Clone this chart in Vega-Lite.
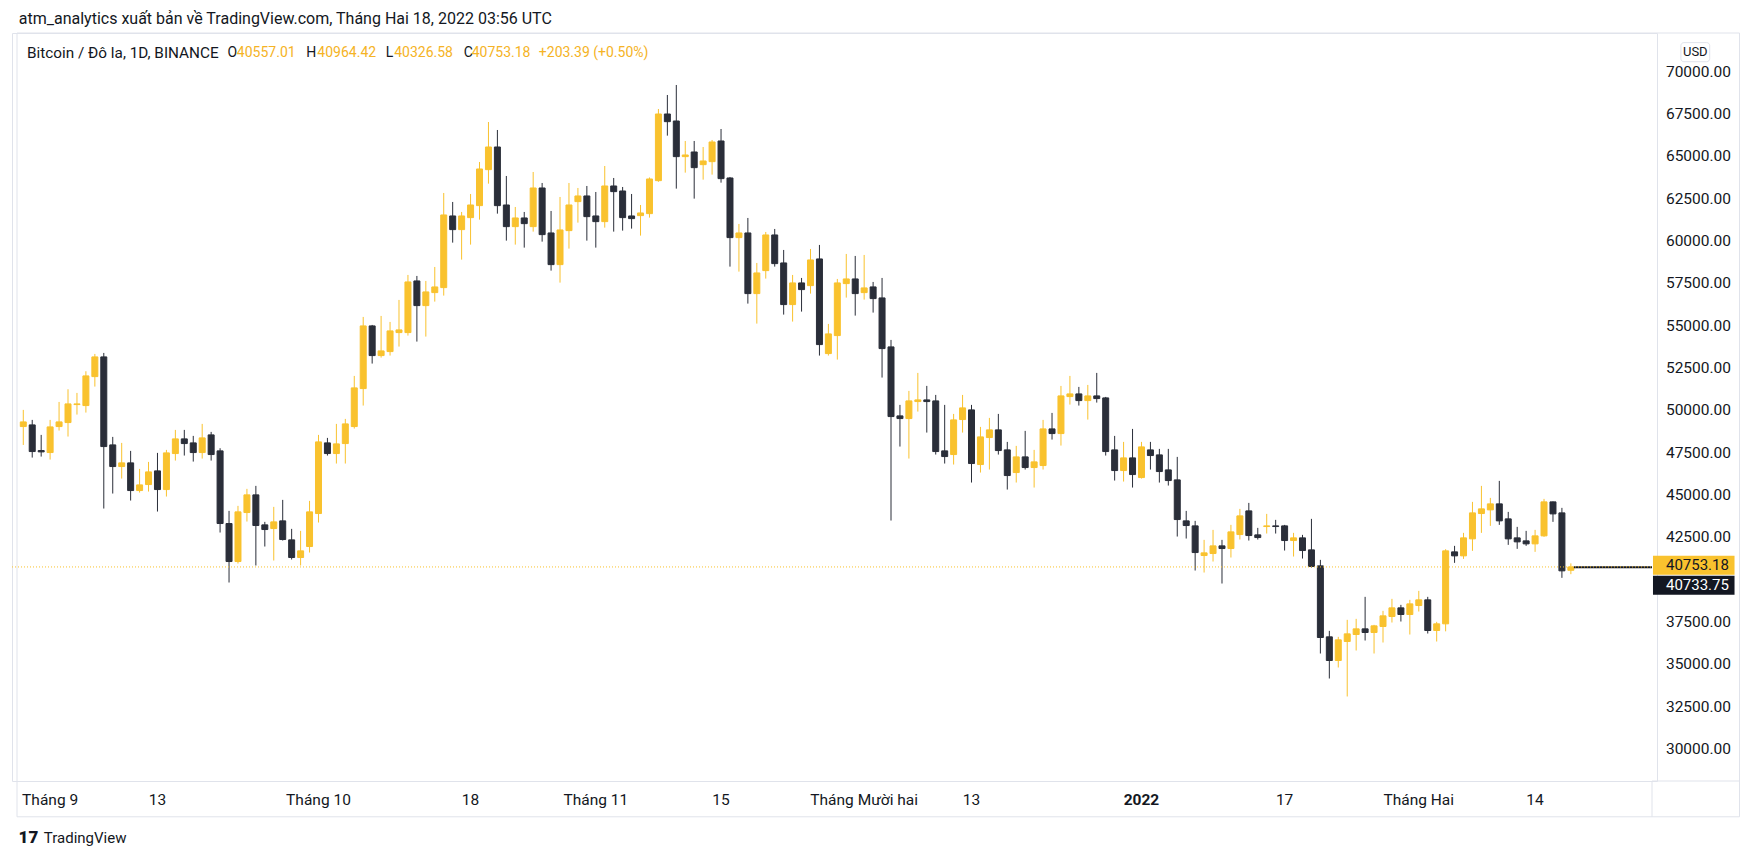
{
"$schema": "https://vega.github.io/schema/vega-lite/v6.json",
"width": 1645, "height": 748, "autosize": "none",
"padding": {"left": 12, "top": 33, "right": 101, "bottom": 80},
"background": "#ffffff",
"config": {"view": {"stroke": "#E0E3EB", "strokeWidth": 1}, "font": "Roboto"},
"datasets": {
"yt": [{"v":30000},{"v":32500},{"v":35000},{"v":37500},{"v":42500},{"v":45000},{"v":47500},{"v":50000},{"v":52500},{"v":55000},{"v":57500},{"v":60000},{"v":62500},{"v":65000},{"v":67500},{"v":70000}],
"xt": [
{"d":"2021-09-01","t":"Tháng 9"},
{"d":"2021-09-13","t":"13"},
{"d":"2021-10-01","t":"Tháng 10"},
{"d":"2021-10-18","t":"18"},
{"d":"2021-11-01","t":"Tháng 11"},
{"d":"2021-11-15","t":"15"},
{"d":"2021-12-01","t":"Tháng Mười hai"},
{"d":"2021-12-13","t":"13"},
{"d":"2022-01-01","t":"2022"},
{"d":"2022-01-17","t":"17"},
{"d":"2022-02-01","t":"Tháng Hai"},
{"d":"2022-02-14","t":"14"}],
"btc": [
{"d":"2021-08-29","o":49045,"h":50030,"l":47960,"c":49320},
{"d":"2021-08-30","o":49143,"h":49439,"l":47214,"c":47569},
{"d":"2021-08-31","o":47628,"h":48553,"l":47273,"c":47549},
{"d":"2021-09-01","o":47510,"h":49439,"l":47096,"c":49025},
{"d":"2021-09-02","o":49045,"h":50500,"l":48810,"c":49320},
{"d":"2021-09-03","o":49281,"h":51249,"l":48455,"c":50383},
{"d":"2021-09-04","o":50344,"h":51033,"l":49754,"c":50383},
{"d":"2021-09-05","o":50285,"h":52312,"l":49872,"c":52037},
{"d":"2021-09-06","o":51997,"h":53336,"l":51407,"c":53159},
{"d":"2021-09-07","o":53159,"h":53395,"l":44203,"c":47864},
{"d":"2021-09-08","o":47962,"h":48435,"l":45089,"c":46683},
{"d":"2021-09-09","o":46683,"h":48081,"l":45974,"c":46900},
{"d":"2021-09-10","o":46900,"h":47608,"l":44675,"c":45266},
{"d":"2021-09-11","o":45266,"h":46545,"l":45148,"c":45600},
{"d":"2021-09-12","o":45620,"h":46958,"l":45207,"c":46368},
{"d":"2021-09-13","o":46427,"h":47490,"l":44026,"c":45325},
{"d":"2021-09-14","o":45325,"h":47667,"l":44912,"c":47490},
{"d":"2021-09-15","o":47451,"h":48848,"l":47037,"c":48317},
{"d":"2021-09-16","o":48317,"h":48848,"l":47333,"c":48041},
{"d":"2021-09-17","o":48081,"h":48494,"l":46978,"c":47510},
{"d":"2021-09-18","o":47510,"h":49203,"l":47155,"c":48376},
{"d":"2021-09-19","o":48553,"h":48730,"l":47037,"c":47392},
{"d":"2021-09-20","o":47609,"h":47766,"l":42787,"c":43318},
{"d":"2021-09-21","o":43318,"h":44066,"l":39834,"c":41074},
{"d":"2021-09-22","o":41074,"h":44361,"l":40956,"c":44007},
{"d":"2021-09-23","o":43967,"h":45365,"l":43436,"c":45011},
{"d":"2021-09-24","o":45011,"h":45542,"l":40838,"c":43200},
{"d":"2021-09-25","o":43239,"h":43416,"l":41960,"c":42963},
{"d":"2021-09-26","o":43022,"h":44302,"l":41133,"c":43416},
{"d":"2021-09-27","o":43475,"h":44715,"l":42314,"c":42373},
{"d":"2021-09-28","o":42353,"h":43003,"l":41192,"c":41310},
{"d":"2021-09-29","o":41310,"h":42885,"l":40838,"c":41704},
{"d":"2021-09-30","o":41960,"h":44656,"l":41605,"c":44007},
{"d":"2021-10-01","o":43908,"h":48553,"l":43377,"c":48140},
{"d":"2021-10-02","o":48081,"h":48376,"l":47333,"c":47451},
{"d":"2021-10-03","o":47451,"h":49203,"l":46861,"c":48022},
{"d":"2021-10-04","o":48041,"h":49498,"l":46861,"c":49203},
{"d":"2021-10-05","o":49046,"h":52037,"l":48927,"c":51329},
{"d":"2021-10-06","o":51289,"h":55521,"l":50286,"c":54990},
{"d":"2021-10-07","o":54990,"h":55049,"l":52766,"c":53238},
{"d":"2021-10-08","o":53238,"h":55580,"l":53120,"c":53514},
{"d":"2021-10-09","o":53474,"h":55226,"l":53238,"c":54695},
{"d":"2021-10-10","o":54596,"h":56525,"l":53770,"c":54754},
{"d":"2021-10-11","o":54596,"h":58001,"l":54419,"c":57588},
{"d":"2021-10-12","o":57647,"h":57942,"l":54065,"c":56190},
{"d":"2021-10-13","o":56190,"h":57647,"l":54360,"c":56998},
{"d":"2021-10-14","o":56958,"h":58473,"l":56427,"c":57292},
{"d":"2021-10-15","o":57253,"h":62843,"l":56781,"c":61544},
{"d":"2021-10-16","o":61485,"h":62312,"l":59910,"c":60678},
{"d":"2021-10-17","o":60678,"h":61721,"l":58906,"c":61485},
{"d":"2021-10-18","o":61387,"h":62784,"l":59792,"c":62134},
{"d":"2021-10-19","o":62095,"h":64673,"l":61268,"c":64260},
{"d":"2021-10-20","o":64221,"h":67035,"l":63394,"c":65559},
{"d":"2021-10-21","o":65559,"h":66563,"l":61623,"c":62095},
{"d":"2021-10-22","o":62134,"h":63847,"l":60028,"c":60855},
{"d":"2021-10-23","o":60855,"h":62016,"l":59792,"c":61367},
{"d":"2021-10-24","o":61367,"h":61721,"l":59615,"c":61032},
{"d":"2021-10-25","o":60855,"h":64083,"l":60560,"c":63138},
{"d":"2021-10-26","o":63138,"h":63433,"l":59969,"c":60383},
{"d":"2021-10-27","o":60481,"h":61780,"l":58257,"c":58611},
{"d":"2021-10-28","o":58611,"h":62607,"l":57548,"c":60658},
{"d":"2021-10-29","o":60619,"h":63433,"l":59556,"c":62134},
{"d":"2021-10-30","o":62331,"h":63138,"l":61091,"c":62666},
{"d":"2021-10-31","o":62666,"h":63256,"l":60028,"c":61445},
{"d":"2021-11-01","o":61485,"h":62902,"l":59615,"c":61150},
{"d":"2021-11-02","o":61150,"h":64437,"l":60796,"c":63256},
{"d":"2021-11-03","o":63256,"h":63729,"l":60560,"c":62922},
{"d":"2021-11-04","o":62961,"h":63197,"l":60619,"c":61387},
{"d":"2021-11-05","o":61485,"h":62784,"l":60737,"c":61328},
{"d":"2021-11-06","o":61505,"h":62134,"l":60324,"c":61662},
{"d":"2021-11-07","o":61623,"h":63760,"l":61387,"c":63670},
{"d":"2021-11-08","o":63571,"h":67803,"l":63500,"c":67508},
{"d":"2021-11-09","o":67508,"h":68630,"l":66229,"c":67055},
{"d":"2021-11-10","o":67095,"h":69221,"l":63099,"c":64989},
{"d":"2021-11-11","o":64989,"h":65914,"l":64044,"c":65087},
{"d":"2021-11-12","o":65264,"h":65914,"l":62509,"c":64339},
{"d":"2021-11-13","o":64516,"h":65559,"l":63630,"c":64733},
{"d":"2021-11-14","o":64693,"h":65973,"l":63926,"c":65855},
{"d":"2021-11-15","o":65914,"h":66622,"l":63453,"c":63690},
{"d":"2021-11-16","o":63729,"h":63788,"l":58493,"c":60206},
{"d":"2021-11-17","o":60206,"h":61013,"l":58198,"c":60481},
{"d":"2021-11-18","o":60481,"h":61367,"l":56308,"c":56899},
{"d":"2021-11-19","o":56899,"h":58710,"l":55127,"c":58119},
{"d":"2021-11-20","o":58257,"h":60540,"l":57785,"c":60363},
{"d":"2021-11-21","o":60363,"h":60717,"l":58493,"c":58670},
{"d":"2021-11-22","o":58710,"h":59477,"l":55659,"c":56250},
{"d":"2021-11-23","o":56250,"h":58001,"l":55246,"c":57529},
{"d":"2021-11-24","o":57529,"h":57824,"l":55836,"c":57135},
{"d":"2021-11-25","o":57371,"h":59536,"l":56899,"c":58887},
{"d":"2021-11-26","o":58946,"h":59773,"l":53238,"c":53888},
{"d":"2021-11-27","o":53356,"h":55108,"l":53238,"c":54518},
{"d":"2021-11-28","o":54419,"h":57765,"l":53002,"c":57529},
{"d":"2021-11-29","o":57490,"h":59241,"l":56663,"c":57765},
{"d":"2021-11-30","o":57765,"h":59123,"l":55600,"c":56899},
{"d":"2021-12-01","o":56958,"h":59182,"l":56545,"c":57234},
{"d":"2021-12-02","o":57293,"h":57588,"l":55777,"c":56604},
{"d":"2021-12-03","o":56643,"h":57824,"l":51939,"c":53651},
{"d":"2021-12-04","o":53750,"h":54163,"l":43495,"c":49636},
{"d":"2021-12-05","o":49675,"h":50325,"l":47865,"c":49518},
{"d":"2021-12-06","o":49518,"h":51152,"l":47156,"c":50561},
{"d":"2021-12-07","o":50522,"h":52214,"l":49931,"c":50620},
{"d":"2021-12-08","o":50620,"h":51447,"l":48691,"c":50522},
{"d":"2021-12-09","o":50561,"h":50915,"l":47392,"c":47569},
{"d":"2021-12-10","o":47609,"h":50325,"l":46861,"c":47274},
{"d":"2021-12-11","o":47392,"h":49793,"l":46802,"c":49439},
{"d":"2021-12-12","o":49459,"h":50915,"l":48691,"c":50148},
{"d":"2021-12-13","o":50030,"h":50325,"l":45739,"c":46861},
{"d":"2021-12-14","o":46802,"h":49026,"l":46329,"c":48435},
{"d":"2021-12-15","o":48396,"h":49557,"l":46506,"c":48849},
{"d":"2021-12-16","o":48849,"h":49793,"l":47392,"c":47628},
{"d":"2021-12-17","o":47668,"h":48140,"l":45325,"c":46152},
{"d":"2021-12-18","o":46329,"h":47904,"l":45739,"c":47254},
{"d":"2021-12-19","o":47254,"h":48790,"l":46506,"c":46624},
{"d":"2021-12-20","o":46624,"h":47668,"l":45443,"c":46959},
{"d":"2021-12-21","o":46742,"h":49439,"l":46506,"c":48907},
{"d":"2021-12-22","o":48907,"h":49852,"l":48277,"c":48632},
{"d":"2021-12-23","o":48632,"h":51446,"l":47923,"c":50856},
{"d":"2021-12-24","o":50816,"h":52037,"l":50344,"c":50974},
{"d":"2021-12-25","o":50974,"h":51387,"l":50285,"c":50580},
{"d":"2021-12-26","o":50580,"h":51505,"l":49458,"c":50856},
{"d":"2021-12-27","o":50856,"h":52214,"l":50462,"c":50698},
{"d":"2021-12-28","o":50738,"h":50797,"l":47333,"c":47569},
{"d":"2021-12-29","o":47667,"h":48494,"l":45856,"c":46447},
{"d":"2021-12-30","o":46447,"h":48140,"l":45797,"c":47195},
{"d":"2021-12-31","o":47195,"h":48907,"l":45443,"c":46211},
{"d":"2022-01-01","o":46033,"h":48140,"l":45974,"c":47844},
{"d":"2022-01-02","o":47667,"h":48140,"l":46506,"c":47333},
{"d":"2022-01-03","o":47372,"h":47726,"l":45738,"c":46388},
{"d":"2022-01-04","o":46486,"h":47726,"l":45561,"c":45856},
{"d":"2022-01-05","o":45896,"h":47254,"l":42550,"c":43553},
{"d":"2022-01-06","o":43475,"h":44065,"l":42431,"c":43199},
{"d":"2022-01-07","o":43179,"h":43475,"l":40542,"c":41604},
{"d":"2022-01-08","o":41428,"h":42353,"l":40424,"c":41585},
{"d":"2022-01-09","o":41546,"h":42943,"l":41073,"c":41998},
{"d":"2022-01-10","o":41998,"h":42353,"l":39774,"c":41841},
{"d":"2022-01-11","o":41841,"h":43239,"l":41310,"c":42825},
{"d":"2022-01-12","o":42667,"h":44183,"l":42372,"c":43770},
{"d":"2022-01-13","o":44065,"h":44537,"l":42313,"c":42608},
{"d":"2022-01-14","o":42648,"h":43061,"l":42372,"c":42490},
{"d":"2022-01-15","o":43140,"h":43888,"l":42727,"c":43179},
{"d":"2022-01-16","o":43179,"h":43534,"l":42727,"c":43140},
{"d":"2022-01-17","o":43179,"h":43238,"l":41723,"c":42313},
{"d":"2022-01-18","o":42313,"h":42766,"l":41368,"c":42471},
{"d":"2022-01-19","o":42471,"h":42648,"l":41250,"c":41723},
{"d":"2022-01-20","o":41762,"h":43593,"l":40719,"c":40778},
{"d":"2022-01-21","o":40817,"h":41172,"l":35641,"c":36586},
{"d":"2022-01-22","o":36625,"h":36979,"l":34164,"c":35227},
{"d":"2022-01-23","o":35227,"h":36625,"l":34814,"c":36448},
{"d":"2022-01-24","o":36350,"h":37629,"l":33102,"c":36802},
{"d":"2022-01-25","o":36763,"h":37688,"l":35818,"c":37097},
{"d":"2022-01-26","o":37097,"h":38987,"l":36408,"c":36881},
{"d":"2022-01-27","o":36881,"h":37333,"l":35641,"c":37274},
{"d":"2022-01-28","o":37235,"h":38160,"l":36290,"c":37865},
{"d":"2022-01-29","o":37826,"h":38869,"l":37471,"c":38337},
{"d":"2022-01-30","o":38337,"h":38514,"l":37530,"c":37944},
{"d":"2022-01-31","o":37944,"h":38810,"l":36762,"c":38573},
{"d":"2022-02-01","o":38475,"h":39341,"l":38121,"c":38810},
{"d":"2022-02-02","o":38810,"h":38987,"l":36822,"c":36999},
{"d":"2022-02-03","o":36999,"h":37511,"l":36349,"c":37393},
{"d":"2022-02-04","o":37393,"h":41802,"l":36950,"c":41704},
{"d":"2022-02-05","o":41644,"h":41999,"l":40995,"c":41408},
{"d":"2022-02-06","o":41408,"h":42766,"l":41231,"c":42471},
{"d":"2022-02-07","o":42412,"h":44597,"l":41704,"c":43947},
{"d":"2022-02-08","o":43908,"h":45542,"l":42766,"c":44184},
{"d":"2022-02-09","o":44125,"h":44833,"l":43180,"c":44479},
{"d":"2022-02-10","o":44479,"h":45837,"l":43239,"c":43475},
{"d":"2022-02-11","o":43593,"h":44006,"l":42058,"c":42412},
{"d":"2022-02-12","o":42471,"h":43121,"l":41822,"c":42235},
{"d":"2022-02-13","o":42294,"h":42885,"l":41999,"c":42117},
{"d":"2022-02-14","o":42117,"h":42944,"l":41644,"c":42589},
{"d":"2022-02-15","o":42589,"h":44774,"l":42530,"c":44597},
{"d":"2022-02-16","o":44597,"h":44620,"l":43416,"c":43888},
{"d":"2022-02-17","o":43947,"h":44243,"l":40109,"c":40523},
{"d":"2022-02-18","o":40557.01,"h":40964.42,"l":40326.58,"c":40753.18}
]},
"layer": [
{"data": {"name": "btc"},
 "mark": {"type": "rule", "strokeWidth": 1},
 "encoding": {
  "x": {"field": "d", "type": "temporal", "axis": null,
   "scale": {"type": "utc", "domain": [1630134480000, 1645926060000], "nice": false}},
  "y": {"field": "l", "type": "quantitative", "axis": null,
   "scale": {"domain": [28110, 72292], "nice": false, "zero": false}},
  "y2": {"field": "h"},
  "color": {"condition": {"test": "datum.c >= datum.o", "value": "#F9C22E"}, "value": "#2A2E39"}}},
{"data": {"name": "btc"},
 "mark": {"type": "bar", "size": 6, "strokeWidth": 1},
 "encoding": {
  "x": {"field": "d", "type": "temporal", "axis": null},
  "y": {"field": "o", "type": "quantitative", "axis": null},
  "y2": {"field": "c"},
  "fill": {"condition": {"test": "datum.c >= datum.o", "value": "#F9C22E"}, "value": "#2A2E39"},
  "stroke": {"condition": {"test": "datum.c >= datum.o", "value": "#F9C22E"}, "value": "#2A2E39"}}},
{"data": {"name": "yt"},
 "mark": {"type": "text", "align": "left", "baseline": "middle", "fontSize": 15.5, "font": "Roboto", "color": "#131722"},
 "encoding": {
  "x": {"datum": {"year": 2022, "month": 2, "date": 28, "hours": 15, "minutes": 7, "utc": true}, "type": "temporal", "axis": null},
  "y": {"field": "v", "type": "quantitative", "axis": null},
  "text": {"field": "v", "type": "quantitative", "format": ".2f"}}},
{"data": {"name": "xt"},
 "transform": [{"filter": "datum.t != '2022'"}],
 "mark": {"type": "text", "align": "center", "baseline": "middle", "fontSize": 15.5, "font": "Roboto", "color": "#131722"},
 "encoding": {
  "x": {"field": "d", "type": "temporal", "axis": null},
  "y": {"datum": 27000, "type": "quantitative", "axis": null},
  "text": {"field": "t", "type": "nominal"}}},
{"data": {"name": "xt"},
 "transform": [{"filter": "datum.t == '2022'"}],
 "mark": {"type": "text", "align": "center", "baseline": "middle", "fontSize": 15.5, "font": "Roboto", "fontWeight": "bold", "color": "#131722"},
 "encoding": {
  "x": {"field": "d", "type": "temporal", "axis": null},
  "y": {"datum": 27000, "type": "quantitative", "axis": null},
  "text": {"field": "t", "type": "nominal"}}},
{"data": {"values": [{}]},
 "mark": {"type": "rect", "fill": "transparent", "stroke": "#E0E3EB", "strokeWidth": 1},
 "encoding": {
  "x": {"datum": {"year": 2021, "month": 8, "date": 28, "hours": 7, "minutes": 8, "utc": true}, "type": "temporal", "axis": null},
  "x2": {"datum": {"year": 2022, "month": 3, "date": 8, "hours": 20, "minutes": 24, "utc": true}},
  "y": {"datum": 72292, "type": "quantitative", "axis": null},
  "y2": {"datum": 25996}}},
{"data": {"values": [{}]},
 "mark": {"type": "rule", "color": "#E0E3EB", "strokeWidth": 1},
 "encoding": {
  "x": {"datum": {"year": 2022, "month": 2, "date": 27, "hours": 1, "minutes": 41, "utc": true}, "type": "temporal", "axis": null},
  "y": {"datum": 28110, "type": "quantitative", "axis": null},
  "y2": {"datum": 25996}}},
{"data": {"values": [{}]},
 "mark": {"type": "rule", "color": "#E0E3EB", "strokeWidth": 1},
 "encoding": {
  "x": {"datum": {"year": 2022, "month": 2, "date": 27, "hours": 1, "minutes": 41, "utc": true}, "type": "temporal", "axis": null},
  "x2": {"datum": {"year": 2022, "month": 3, "date": 8, "hours": 20, "minutes": 24, "utc": true}},
  "y": {"datum": 28110, "type": "quantitative", "axis": null}}},
{"data": {"values": [{}]},
 "mark": {"type": "rule", "color": "#131722", "strokeWidth": 2},
 "encoding": {
  "x": {"datum": {"year": 2022, "month": 2, "date": 18, "hours": 8, "utc": true}, "type": "temporal", "axis": null},
  "x2": {"datum": {"year": 2022, "month": 2, "date": 27, "hours": 1, "minutes": 41, "utc": true}},
  "y": {"datum": 40733.75, "type": "quantitative", "axis": null}}},
{"data": {"values": [{}]},
 "mark": {"type": "rule", "color": "#F9C22E", "strokeWidth": 1, "strokeDash": [1, 2]},
 "encoding": {
  "y": {"datum": 40753.18, "type": "quantitative", "axis": null}}},
{"data": {"values": [{}]},
 "mark": {"type": "rect", "fill": "#F9C22E"},
 "encoding": {
  "x": {"datum": {"year": 2022, "month": 2, "date": 27, "hours": 4, "minutes": 19, "utc": true}, "type": "temporal", "axis": null},
  "x2": {"datum": {"year": 2022, "month": 3, "date": 8, "hours": 7, "minutes": 7, "utc": true}},
  "y": {"datum": 41408, "type": "quantitative", "axis": null},
  "y2": {"datum": 40286}}},
{"data": {"values": [{}]},
 "mark": {"type": "rect", "fill": "#131722"},
 "encoding": {
  "x": {"datum": {"year": 2022, "month": 2, "date": 27, "hours": 4, "minutes": 19, "utc": true}, "type": "temporal", "axis": null},
  "x2": {"datum": {"year": 2022, "month": 3, "date": 8, "hours": 7, "minutes": 7, "utc": true}},
  "y": {"datum": 40227, "type": "quantitative", "axis": null},
  "y2": {"datum": 39105}}},
{"data": {"values": [{}]},
 "mark": {"type": "text", "align": "left", "baseline": "middle", "fontSize": 15, "font": "Roboto", "color": "#131722"},
 "encoding": {
  "x": {"datum": {"year": 2022, "month": 2, "date": 28, "hours": 15, "minutes": 7, "utc": true}, "type": "temporal", "axis": null},
  "y": {"datum": 40847, "type": "quantitative", "axis": null},
  "text": {"value": "40753.18"}}},
{"data": {"values": [{}]},
 "mark": {"type": "text", "align": "left", "baseline": "middle", "fontSize": 15, "font": "Roboto", "color": "#ffffff"},
 "encoding": {
  "x": {"datum": {"year": 2022, "month": 2, "date": 28, "hours": 15, "minutes": 7, "utc": true}, "type": "temporal", "axis": null},
  "y": {"datum": 39666, "type": "quantitative", "axis": null},
  "text": {"value": "40733.75"}}},
{"data": {"values": [{}]},
 "mark": {"type": "rect", "fill": "#ffffff", "stroke": "#E0E3EB", "strokeWidth": 1, "cornerRadius": 3},
 "encoding": {
  "x": {"datum": {"year": 2022, "month": 3, "date": 2, "hours": 7, "minutes": 12, "utc": true}, "type": "temporal", "axis": null},
  "x2": {"datum": {"year": 2022, "month": 3, "date": 5, "hours": 12, "minutes": 32, "utc": true}},
  "y": {"datum": 71724, "type": "quantitative", "axis": null},
  "y2": {"datum": 70596}}},
{"data": {"values": [{}]},
 "mark": {"type": "text", "align": "center", "baseline": "middle", "fontSize": 13, "font": "Roboto", "color": "#131722"},
 "encoding": {
  "x": {"datum": {"year": 2022, "month": 3, "date": 3, "hours": 21, "minutes": 50, "utc": true}, "type": "temporal", "axis": null},
  "y": {"datum": 71157, "type": "quantitative", "axis": null},
  "text": {"value": "USD"}}},
{"data": {"values": [{}]},
 "mark": {"type": "text", "align": "left", "baseline": "middle", "fontSize": 16, "font": "Roboto", "color": "#131722"},
 "encoding": {
  "x": {"datum": {"year": 2021, "month": 8, "date": 28, "hours": 11, "minutes": 57, "utc": true}, "type": "temporal", "axis": null},
  "y": {"datum": 73118, "type": "quantitative", "axis": null},
  "text": {"value": "atm_analytics xuất bản về TradingView.com, Tháng Hai 18, 2022 03:56 UTC"}}},
{"data": {"values": [{}]},
 "mark": {"type": "text", "align": "left", "baseline": "middle", "fontSize": 15.3, "font": "Roboto", "color": "#131722"},
 "encoding": {
  "x": {"datum": {"year": 2021, "month": 8, "date": 29, "hours": 10, "minutes": 0, "utc": true}, "type": "temporal", "axis": null},
  "y": {"datum": 71128, "type": "quantitative", "axis": null},
  "text": {"value": "Bitcoin / Đô la, 1D, BINANCE"}}},
{"data": {"values": [{}]},
 "mark": {"type": "text", "align": "left", "baseline": "middle", "fontSize": 14, "font": "Roboto", "color": "#131722"},
 "encoding": {
  "x": {"datum": {"year": 2021, "month": 9, "date": 20, "hours": 20, "minutes": 0, "utc": true}, "type": "temporal", "axis": null},
  "y": {"datum": 71128, "type": "quantitative", "axis": null},
  "text": {"value": "O"}}},
{"data": {"values": [{}]},
 "mark": {"type": "text", "align": "left", "baseline": "middle", "fontSize": 14, "font": "Roboto", "color": "#F5B325"},
 "encoding": {
  "x": {"datum": {"year": 2021, "month": 9, "date": 21, "hours": 21, "minutes": 0, "utc": true}, "type": "temporal", "axis": null},
  "y": {"datum": 71128, "type": "quantitative", "axis": null},
  "text": {"value": "40557.01"}}},
{"data": {"values": [{}]},
 "mark": {"type": "text", "align": "left", "baseline": "middle", "fontSize": 14, "font": "Roboto", "color": "#131722"},
 "encoding": {
  "x": {"datum": {"year": 2021, "month": 9, "date": 29, "hours": 15, "minutes": 7, "utc": true}, "type": "temporal", "axis": null},
  "y": {"datum": 71128, "type": "quantitative", "axis": null},
  "text": {"value": "H"}}},
{"data": {"values": [{}]},
 "mark": {"type": "text", "align": "left", "baseline": "middle", "fontSize": 14, "font": "Roboto", "color": "#F5B325"},
 "encoding": {
  "x": {"datum": {"year": 2021, "month": 9, "date": 30, "hours": 21, "minutes": 0, "utc": true}, "type": "temporal", "axis": null},
  "y": {"datum": 71128, "type": "quantitative", "axis": null},
  "text": {"value": "40964.42"}}},
{"data": {"values": [{}]},
 "mark": {"type": "text", "align": "left", "baseline": "middle", "fontSize": 14, "font": "Roboto", "color": "#131722"},
 "encoding": {
  "x": {"datum": {"year": 2021, "month": 10, "date": 8, "hours": 12, "minutes": 29, "utc": true}, "type": "temporal", "axis": null},
  "y": {"datum": 71128, "type": "quantitative", "axis": null},
  "text": {"value": "L"}}},
{"data": {"values": [{}]},
 "mark": {"type": "text", "align": "left", "baseline": "middle", "fontSize": 14, "font": "Roboto", "color": "#F5B325"},
 "encoding": {
  "x": {"datum": {"year": 2021, "month": 10, "date": 9, "hours": 11, "minutes": 0, "utc": true}, "type": "temporal", "axis": null},
  "y": {"datum": 71128, "type": "quantitative", "axis": null},
  "text": {"value": "40326.58"}}},
{"data": {"values": [{}]},
 "mark": {"type": "text", "align": "left", "baseline": "middle", "fontSize": 14, "font": "Roboto", "color": "#131722"},
 "encoding": {
  "x": {"datum": {"year": 2021, "month": 10, "date": 17, "hours": 5, "minutes": 33, "utc": true}, "type": "temporal", "axis": null},
  "y": {"datum": 71128, "type": "quantitative", "axis": null},
  "text": {"value": "C"}}},
{"data": {"values": [{}]},
 "mark": {"type": "text", "align": "left", "baseline": "middle", "fontSize": 14, "font": "Roboto", "color": "#F5B325"},
 "encoding": {
  "x": {"datum": {"year": 2021, "month": 10, "date": 18, "hours": 3, "minutes": 0, "utc": true}, "type": "temporal", "axis": null},
  "y": {"datum": 71128, "type": "quantitative", "axis": null},
  "text": {"value": "40753.18"}}},
{"data": {"values": [{}]},
 "mark": {"type": "text", "align": "left", "baseline": "middle", "fontSize": 14, "font": "Roboto", "color": "#F5B325"},
 "encoding": {
  "x": {"datum": {"year": 2021, "month": 10, "date": 25, "hours": 15, "minutes": 7, "utc": true}, "type": "temporal", "axis": null},
  "y": {"datum": 71128, "type": "quantitative", "axis": null},
  "text": {"value": "+203.39 (+0.50%)"}}},
{"data": {"values": [{}]},
 "mark": {"type": "text", "align": "center", "baseline": "middle", "fontSize": 17, "font": "Roboto", "fontWeight": 900, "color": "#131722"},
 "encoding": {
  "x": {"datum": {"year": 2021, "month": 8, "date": 29, "hours": 13, "minutes": 47, "utc": true}, "type": "temporal", "axis": null},
  "y": {"datum": 24755, "type": "quantitative", "axis": null},
  "text": {"value": "17"}}},
{"data": {"values": [{}]},
 "mark": {"type": "text", "align": "left", "baseline": "middle", "fontSize": 15, "font": "Roboto", "color": "#131722"},
 "encoding": {
  "x": {"datum": {"year": 2021, "month": 8, "date": 31, "hours": 7, "minutes": 7, "utc": true}, "type": "temporal", "axis": null},
  "y": {"datum": 24755, "type": "quantitative", "axis": null},
  "text": {"value": "TradingView"}}}
]
}
